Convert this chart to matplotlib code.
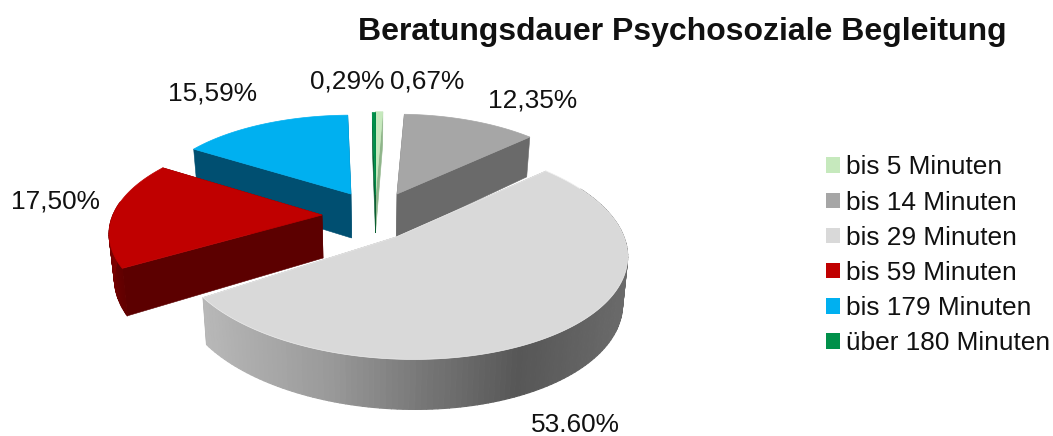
import numpy as np
import matplotlib
matplotlib.use("Agg")
import matplotlib.pyplot as plt
from matplotlib.collections import PolyCollection
from matplotlib.patches import Patch

plt.rcParams['font.family'] = ['Liberation Sans', 'DejaVu Sans']

categories = ["bis 5 Minuten", "bis 14 Minuten", "bis 29 Minuten",
              "bis 59 Minuten", "bis 179 Minuten", "über 180 Minuten"]
values = [0.67, 12.35, 53.60, 17.50, 15.59, 0.29]
value_labels = ["0,67%", "12,35%", "53.60%", "17,50%", "15,59%", "0,29%"]
title = "Beratungsdauer Psychosoziale Begleitung"

top_colors = ["#c6e9bd", "#a6a6a6", "#d9d9d9", "#c00000", "#00b0f0", "#00904a"]
wall_colors = ["#8fb58a", "#6a6a6a", "#8a8a8a", "#5c0000", "#004f71", "#0b5f33"]

# per-slice projection: apex x, y, rim offset y, A, B, C, k, m, depth
proj = [
    (375.5, 195, 0, 201, 96, 0, .153, 0, 38),
    (397, 194, 0, 201, 92, 0, .153, 0, 44),
    (396, 237, 5, 225, 108, 12, .08, .02, 46),
    (322, 215, 0, 209, 96, 0, .19, 0, 43),
    (351, 194, 0, 199, 88, 0, .116, 0, 44),
    (375.5, 195, 0, 199, 92, 0, .116, 0, 38),
]
label_pos = [(427, 81), (533, 100), (575, 425), (55, 201), (212, 94), (347, 81)]

fig = plt.figure(figsize=(10.53, 4.36), dpi=100)
ax = fig.add_axes([0, 0, 1, 1])
ax.set_xlim(0, 1053)
ax.set_ylim(436, 0)
ax.axis("off")


def rim(p, theta):
    x0, y0, oy, A, B, C, k, m, d = p
    t = np.radians(theta)
    u, v = np.sin(t), -np.cos(t)
    w = 1 - k * v - m * u
    return x0 + (A * u + C * v) / w, y0 + oy + B * v / w, d / w


def low(x, y, d):
    return 375 + (x - 375) * .98, y + d


edges = np.concatenate([[0], np.cumsum(values)]) * 3.6
spans = [(edges[i], edges[i + 1]) for i in range(len(values))]
order = [4, 1, 0, 5, 3, 2]
stops_x = [205, 330, 420, 520, 630]
stops_g = [.72, .60, .47, .34, .42]

for i in order:
    a, b = spans[i]
    p = proj[i]
    th = np.linspace(a, b, max(4, int((b - a) * 2)))
    x, y, d = rim(p, th)
    xa, ya = p[0], p[1]
    dv = p[8]
    apex_low = low(np.array(xa), np.array(ya), dv)
    # straight cut walls
    for xe, ye, de in ((x[0], y[0], d[0]), (x[-1], y[-1], d[-1])):
        lx, ly = low(xe, ye, de)
        ax.fill([xa, xe, lx, apex_low[0]], [ya, ye, ly, apex_low[1]],
                color=wall_colors[i], lw=.4, zorder=2 + order.index(i))
    # curved outer wall, facing the viewer only
    if i in (2, 3):
        th2 = np.linspace(60, b, 130) if i == 2 else np.linspace(a, 278, 40)
        x2, y2, d2 = rim(p, th2)
        lx, ly = low(x2, y2, d2)
        quads = [[(x2[j], y2[j]), (x2[j + 1], y2[j + 1]), (lx[j + 1], ly[j + 1]), (lx[j], ly[j])]
                 for j in range(len(th2) - 1)]
        if i == 2:
            g = np.interp((x2[:-1] + x2[1:]) / 2, stops_x, stops_g)
            cols = [(c, c, c) for c in g]
        else:
            g = np.interp(th2[:-1], [240, 278], [.38, .55])
            cols = [(c, .0, .0) for c in g]
        ax.add_collection(PolyCollection(quads, facecolors=cols, edgecolors=cols, linewidths=.8,
                                         zorder=2 + order.index(i)))
    edge = "#eeeeee" if i == 2 else top_colors[i]
    ax.fill(np.r_[xa, x], np.r_[ya, y], facecolor=top_colors[i], edgecolor=edge,
            lw=.5, zorder=2.5 + order.index(i))

for txt, (lx, ly) in zip(value_labels, label_pos):
    ax.text(lx, ly, txt, fontsize=18.9, ha="center", va="center", color="#111111", zorder=20)

ax.text(682.5, 32, title, fontsize=23, fontweight="bold", ha="center", va="center", color="#111111")

handles = [Patch(facecolor=c, edgecolor="none") for c in top_colors]
ax.legend(handles, categories, loc="upper left", bbox_to_anchor=(826 / 1053, 1 - 155.5 / 436),
          frameon=False, fontsize=18.9, borderpad=0, borderaxespad=0,
          handlelength=.53, handleheight=.53, handletextpad=.24, labelspacing=.425,
          labelcolor="#111111")

fig.savefig("out.png", dpi=100)
